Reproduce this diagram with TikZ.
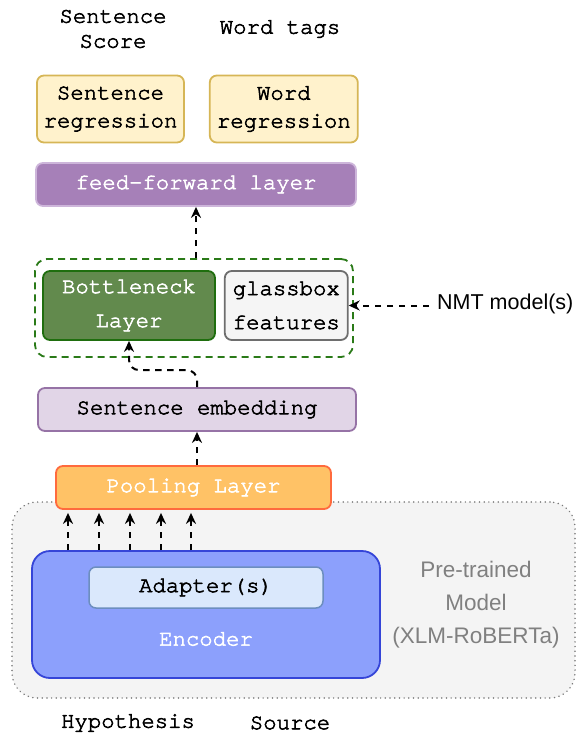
\documentclass[tikz,border=0pt]{standalone}
\usepackage{fontspec}
\setmainfont{Liberation Sans}
\newfontfamily\codefont{TeX Gyre Cursor}[RawFeature={embolden=2.6}]
\usepackage{xcolor}
\usetikzlibrary{arrows.meta,positioning,calc}

\definecolor{regfill}{HTML}{FFF2CC}
\definecolor{regdraw}{HTML}{D6B656}
\definecolor{fffill}{HTML}{A680B8}
\definecolor{ffdraw}{HTML}{CDB5DA}
\definecolor{bnfill}{HTML}{628A4D}
\definecolor{bndraw}{HTML}{1F6E0E}
\definecolor{gbfill}{HTML}{F5F5F5}
\definecolor{gbdraw}{HTML}{6E6E6E}
\definecolor{grpdraw}{HTML}{2A7A18}
\definecolor{sefill}{HTML}{E1D5E7}
\definecolor{sedraw}{HTML}{9673A6}
\definecolor{plfill}{HTML}{FFC266}
\definecolor{pldraw}{HTML}{FF6A3D}
\definecolor{encfill}{HTML}{8CA0FC}
\definecolor{encdraw}{HTML}{3545D8}
\definecolor{adfill}{HTML}{DAE8FC}
\definecolor{addraw}{HTML}{6C8EBF}
\definecolor{ptfill}{HTML}{F4F4F4}
\definecolor{ptdraw}{HTML}{7A7A7A}
\definecolor{pttext}{HTML}{808080}

\begin{document}
\begin{tikzpicture}[x=1pt, y=-1pt,
    node distance=8pt,
    box/.style={draw, rounded corners=7pt, line width=1.8pt, inner sep=0pt, align=center,
        font={\codefont\fontsize{22.3}{28}\selectfont}},
    tall/.style={box, font={\codefont\fontsize{22.3}{34}\selectfont}},
    caption/.style={align=center, inner sep=0pt, font={\codefont\fontsize{22.3}{25}\selectfont}},
    arr/.style={-{Stealth[length=11pt, width=10pt]}, line width=2pt, dash pattern=on 6.5pt off 5.5pt},
]
\useasboundingbox (0,0) rectangle (577,733);

% pre-trained model area (drawn first, it sits behind)
\node[draw=ptdraw, fill=ptfill, line width=1.6pt, dash pattern=on 0.1pt off 4.6pt, line cap=round,
      rounded corners=25pt, minimum width=563pt, minimum height=196pt] (pretrained) at (293.5,600) {};
\node[align=center, text=pttext, font={\fontsize{22.5}{33}\selectfont}] (ptlabel) at (476,605)
      {Pre-trained\\Model\\(XLM-RoBERTa)};

% heads
\node[box, fill=regfill, draw=regdraw, minimum width=147pt, minimum height=67pt] (sreg) at (110.5,109)
      {Sentence\\regression};
\node[box, fill=regfill, draw=regdraw, minimum width=148pt, minimum height=67pt, right=24pt of sreg] (wreg)
      {Word\\regression};
\node[caption] (sscore) at (113,29) {Sentence\\Score};
\node[caption] (wtags) at (280,29) {Word tags};

\node[box, fill=fffill, draw=ffdraw, text=white, minimum width=320pt, minimum height=43pt] (ffl) at (196,184.5)
      {feed-forward layer};

% bottleneck + glassbox
\node[draw=grpdraw, line width=1.8pt, dash pattern=on 7pt off 5pt, rounded corners=12pt,
      minimum width=318pt, minimum height=98pt] (group) at (194,308) {};
\node[tall, fill=bnfill, draw=bndraw, text=white, minimum width=172pt, minimum height=69pt] (bneck) at (129,305.5)
      {Bottleneck\\Layer};
\node[tall, fill=gbfill, draw=gbdraw, minimum width=123pt, minimum height=69pt, right=of bneck] (glass)
      {glassbox\\features};
\node[anchor=west, inner sep=8pt, font={\fontsize{21.5}{26}\selectfont}] (nmt) at (429,304) {NMT model(s)};

\node[box, fill=sefill, draw=sedraw, minimum width=318pt, minimum height=43pt] (semb) at (197,409.5)
      {Sentence embedding};
\node[box, fill=plfill, draw=pldraw, text=white, minimum width=275pt, minimum height=43pt] (pool) at (193.5,487.5)
      {Pooling Layer};

% encoder
\node[box, fill=encfill, draw=encdraw, rounded corners=18pt, minimum width=348pt, minimum height=127pt] (enc) at (206,614.5) {};
\node[box, fill=adfill, draw=addraw, line width=1.5pt, minimum width=234pt, minimum height=41pt] (adapter) at (206,587.5)
      {Adapter(s)};
\node[caption, text=white] (enctext) at (206,639) {Encoder};

\node[caption] (hyp) at (128,723) {Hypothesis};
\node[caption] (src) at (290,723) {Source};

% connectors
\foreach \x in {68,99,130,161,191}
    \draw[arr, shorten >=3pt] (\x,0 |- enc.north) -- (\x,0 |- pool.south);
\draw[arr] (semb.south |- pool.north) -- (semb.south);
\draw[arr, rounded corners=10pt] (semb.north) -- ++(0,-17) -| (bneck.south);
\draw[arr] (nmt.west |- glass.east) -- (glass.east);
\draw[arr] (ffl.south |- group.north) -- (ffl.south);
\end{tikzpicture}
\end{document}
